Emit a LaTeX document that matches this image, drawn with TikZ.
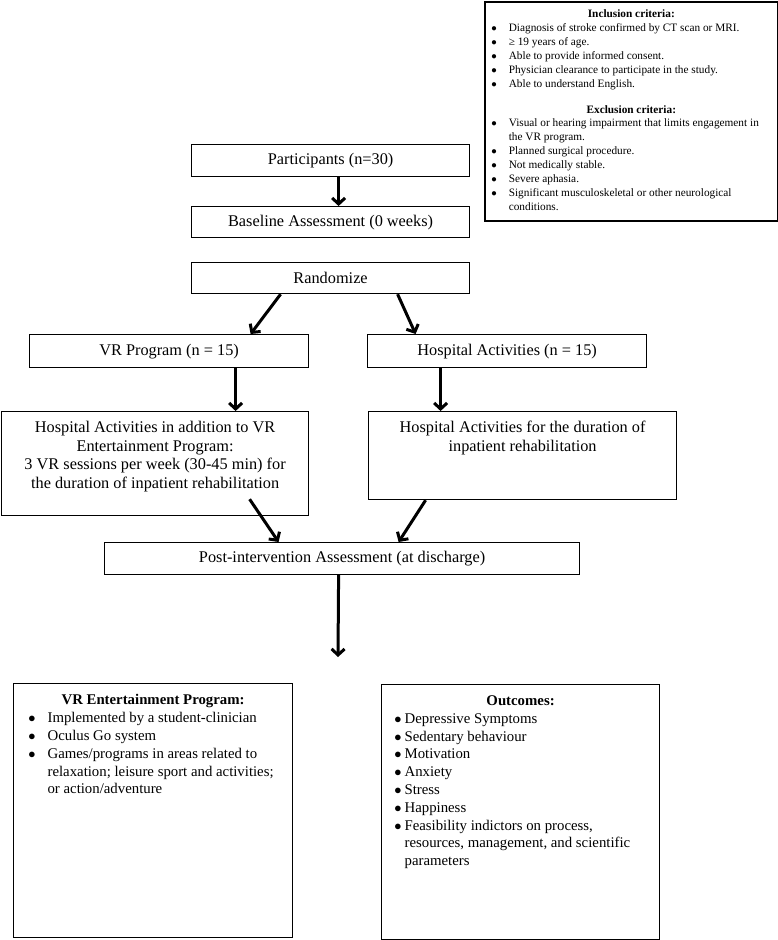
\documentclass[tikz,border=0pt]{standalone}
\usepackage{fontspec}
\setmainfont{Liberation Serif}
\usetikzlibrary{arrows.meta, positioning, calc}

\newcommand{\boxfont}{\fontsize{16.3}{18.7}\selectfont}
\newcommand{\listfont}{\fontsize{14.8}{17.8}\selectfont}
\newcommand{\critfont}{\fontsize{11.3}{13.9}\selectfont}
\newcommand{\topbox}[3]{\parbox[b][#2][t]{#1}{#3}}
\newenvironment{bulletlist}[2]{%
  \begin{list}{$\bullet$}{\setlength{\leftmargin}{#1}\setlength{\labelwidth}{8pt}%
    \setlength{\labelsep}{#2}\setlength{\itemsep}{0pt}\setlength{\topsep}{0pt}%
    \setlength{\parsep}{0pt}\setlength{\partopsep}{0pt}}\raggedright}{\end{list}}

\begin{document}
\begin{tikzpicture}[
    x=1pt, y=-1pt,
    node distance=30pt,
    box/.style={draw, line width=1.2pt, inner sep=0pt, font=\boxfont, align=center},
    critbox/.style={draw, line width=1.6pt, inner sep=0pt, font=\critfont},
    arrow/.style={-{Straight Barb[length=6pt,width=13pt]}, line width=3pt}
]
\useasboundingbox (0,0) rectangle (778,940);

%% Criteria
\node[critbox, anchor=north west] (crit) at (484,1) {\topbox{293pt}{219pt}{%
  \vspace*{8pt}
  {\centering\textbf{Inclusion criteria:}\par}
  \begin{bulletlist}{24pt}{12pt}
    \item Diagnosis of stroke confirmed by CT scan or MRI.
    \item ≥ 19 years of age.
    \item Able to provide informed consent.
    \item Physician clearance to participate in the study.
    \item Able to understand English.
  \end{bulletlist}
  \vspace{12pt}
  {\centering\textbf{Exclusion criteria:}\par}
  \begin{bulletlist}{24pt}{12pt}
    \item Visual or hearing impairment that limits engagement in\newline the VR program.
    \item Planned surgical procedure.
    \item Not medically stable.
    \item Severe aphasia.
    \item Significant musculoskeletal or other neurological\newline conditions.
  \end{bulletlist}}};

%% Enrolment
\node[box, anchor=north west, minimum width=278pt, minimum height=32pt] (part) at (191,144) {Participants (n=30)};
\node[box, anchor=north west, minimum width=278pt, minimum height=31pt] (base) at (191,206) {Baseline Assessment (0 weeks)};
\node[box, anchor=north west, minimum width=278pt, minimum height=31pt] (rand) at (191,262) {Randomize};
\draw[arrow] ([xshift=8pt]part.south) -- ([xshift=8pt]base.north);

%% Groups
\node[box, anchor=north west, minimum width=279pt, minimum height=33pt] (vr) at (29,334) {VR Program (n = 15)};
\node[box, anchor=north west, minimum width=279pt, minimum height=33pt] (hosp) at (367,334) {Hospital Activities (n = 15)};
\draw[arrow] ([xshift=-50pt]rand.south) -- ([xshift=81.5pt]vr.north);
\draw[arrow] ([xshift=67pt]rand.south) -- ([xshift=-91.5pt]hosp.north);

\node[box, anchor=north west] (vrdet) at (1,411) {\topbox{307pt}{104pt}{\centering\vspace*{9.5pt}
  Hospital Activities in addition to VR\\
  Entertainment Program:\\
  3 VR sessions per week (30-45 min) for\\
  the duration of inpatient rehabilitation}};
\node[box, anchor=north west] (hospdet) at (368,411) {\topbox{308pt}{88pt}{\centering\vspace*{9.5pt}
  Hospital Activities for the duration of\\
  inpatient rehabilitation}};
\draw[arrow] ([xshift=66.5pt]vr.south) -- ([xshift=80.5pt]vrdet.north);
\draw[arrow] ([xshift=-66.5pt]hosp.south) -- ([xshift=-82pt]hospdet.north);

%% Post
\node[box, anchor=north west, minimum width=475pt, minimum height=32pt] (post) at (104,542) {Post-intervention Assessment (at discharge)};
\draw[arrow] ([xshift=94.5pt,yshift=17pt]vrdet.south) -- ([xshift=-63.5pt]post.north);
\draw[arrow] ([xshift=-97pt]hospdet.south) -- ([xshift=56.5pt]post.north);
\coordinate (down) at (338,657);
\draw[arrow] ([xshift=-3.5pt]post.south) -- (down);

%% Programme and outcomes
\node[box, anchor=north west, align=left, font=\listfont] (prog) at (13,683) {\topbox{279pt}{254pt}{\vspace*{11pt}
  {\centering\textbf{VR Entertainment Program:}\par}
  \begin{bulletlist}{34pt}{12pt}
    \item Implemented by a student-clinician
    \item Oculus Go system
    \item Games/programs in areas related to\newline relaxation; leisure sport and activities;\newline or action/adventure
  \end{bulletlist}}};
\node[box, anchor=north west, align=left, font=\listfont] (outc) at (381,684) {\topbox{278pt}{255pt}{\vspace*{11pt}
  {\centering\textbf{Outcomes:}\par}
  \begin{bulletlist}{23pt}{3pt}
    \item Depressive Symptoms
    \item Sedentary behaviour
    \item Motivation
    \item Anxiety
    \item Stress
    \item Happiness
    \item Feasibility indictors on process,\newline resources, management, and scientific\newline parameters
  \end{bulletlist}}};

\end{tikzpicture}
\end{document}
